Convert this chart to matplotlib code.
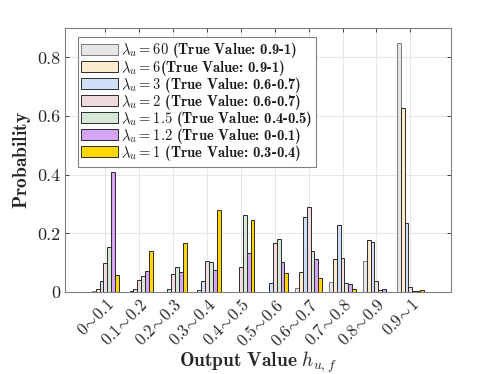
import matplotlib
matplotlib.use("Agg")
import matplotlib.pyplot as plt
import numpy as np

plt.rcParams['mathtext.fontset'] = 'cm'
plt.rcParams['font.family'] = 'serif'
plt.rcParams['font.serif'] = ['cmr10', 'DejaVu Serif']
plt.rcParams['axes.formatter.use_mathtext'] = True
plt.rcParams['axes.unicode_minus'] = False

categories = ['0~0.1', '0.1~0.2', '0.2~0.3', '0.3~0.4', '0.4~0.5',
              '0.5~0.6', '0.6~0.7', '0.7~0.8', '0.8~0.9', '0.9~1']

series_labels = [
    r'$\lambda_u=60$ (True Value: 0.9-1)',
    r'$\lambda_u=6$(True Value: 0.9-1)',
    r'$\lambda_u=3$ (True Value: 0.6-0.7)',
    r'$\lambda_u=2$ (True Value: 0.6-0.7)',
    r'$\lambda_u=1.5$ (True Value: 0.4-0.5)',
    r'$\lambda_u=1.2$ (True Value: 0-0.1)',
    r'$\lambda_u=1$ (True Value: 0.3-0.4)',
]

lam60 = [0.003, 0.001, 0.000, 0.001, 0.000, 0.000, 0.015, 0.035, 0.107, 0.850]
lam6 = [0.011, 0.003, 0.002, 0.008, 0.000, 0.001, 0.069, 0.112, 0.177, 0.628]
lam3 = [0.037, 0.010, 0.010, 0.039, 0.001, 0.030, 0.257, 0.227, 0.170, 0.236]
lam2 = [0.100, 0.040, 0.060, 0.105, 0.086, 0.168, 0.291, 0.117, 0.037, 0.019]
lam15 = [0.152, 0.055, 0.086, 0.101, 0.262, 0.182, 0.140, 0.032, 0.008, 0.003]
lam12 = [0.410, 0.073, 0.067, 0.077, 0.134, 0.102, 0.112, 0.028, 0.009, 0.004]
lam1 = [0.058, 0.140, 0.166, 0.280, 0.245, 0.066, 0.047, 0.009, 0.002, 0.006]

series = [lam60, lam6, lam3, lam2, lam15, lam12, lam1]
colors = ['#e6e6e6', '#fdebd0', '#cfe0f6', '#f0dcdc', '#d6e9d9', '#d5a6f7', '#ffd700']
edges = ['#7a7a7a', '#2a2a2a', '#2a2a2a', '#2a2a2a', '#2a2a2a', '#2a2a2a', '#2a2a2a']

fig = plt.figure(figsize=(4.98, 3.74), dpi=100)
ax = fig.add_axes([0.1305, 0.219, 0.7751, 0.706])

x = np.arange(1, len(categories) + 1)
n = len(series)
w = 0.8 / n
for i, (vals, c, ec, lab) in enumerate(zip(series, colors, edges, series_labels)):
    ax.bar(x + (i - (n - 1) / 2) * w, vals, width=w, color=c, edgecolor=ec,
           linewidth=0.7, label=lab, zorder=3)

ax.set_xlim(-0.19, 11.2)
ax.set_ylim(0, 0.9)
ax.set_yticks([0, 0.2, 0.4, 0.6, 0.8])
ax.set_yticklabels(['0', '0.2', '0.4', '0.6', '0.8'])
ax.set_xticks(x)
ax.set_xticklabels([r'$' + c.replace('~', r'\!{\sim}\!') + r'$' for c in categories],
                   rotation=45, ha='right', va='top', rotation_mode='anchor')
ax.tick_params(axis='both', direction='in', top=True, right=True, labelsize=13,
               colors='#262626', length=3, width=0.6)
ax.tick_params(axis='x', pad=3, labelsize=12)
for s in ax.spines.values():
    s.set_color('#808080')
    s.set_linewidth(0.8)
ax.grid(True, color='#e6e6e6', linewidth=0.7, zorder=0)
ax.set_axisbelow(True)

ax.set_ylabel(r'$\mathbf{Probability}$', fontsize=14, color='#262626', labelpad=3)
ax.set_xlabel(r'$\mathbf{Output\ Value}\ h_{u,f}$', fontsize=14, color='#262626', labelpad=0)

leg = ax.legend(loc='upper left', bbox_to_anchor=(0.025, 0.978),
                prop={'family': 'cmb10', 'size': 10.5},
                frameon=True, fancybox=False, edgecolor='#808080',
                handlelength=2.5, handleheight=0.75, handletextpad=0.25,
                labelspacing=-0.2, borderpad=0.25, borderaxespad=0.2)
leg.get_frame().set_linewidth(0.8)
leg.get_frame().set_alpha(1)
for t in leg.get_texts():
    t.set_color('#1a1a1a')

fig.savefig('out.png', dpi=100)
